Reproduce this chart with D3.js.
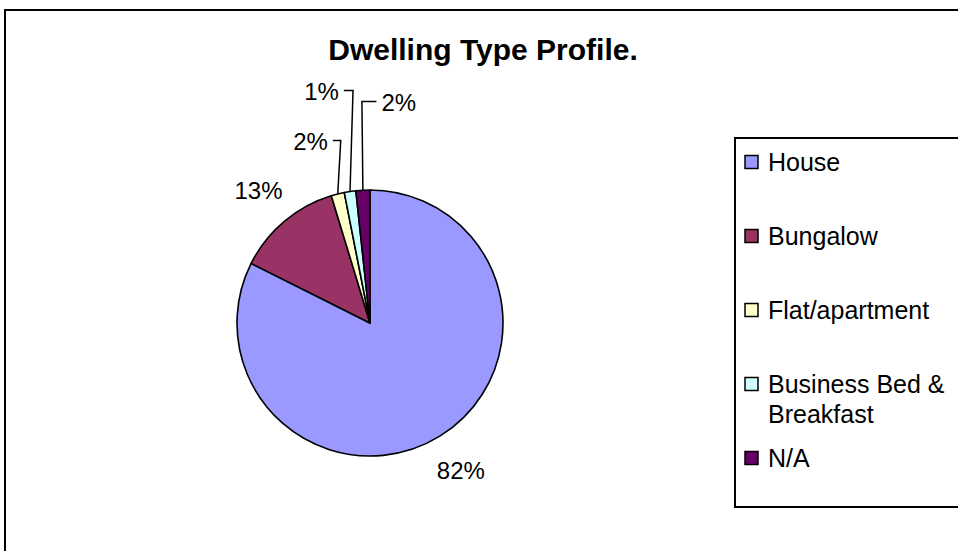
<!DOCTYPE html>
<html>
<head>
<meta charset="utf-8">
<script src="https://cdn.jsdelivr.net/npm/d3@7"></script>
<style>
  html, body { margin: 0; padding: 0; background: #fff; }
  svg { display: block; font-family: "Liberation Sans", Arial, sans-serif; }
</style>
</head>
<body>
<svg id="chart" width="958" height="551"></svg>
<script>
// Dwelling type shares (percent of respondents)
const categories = ["House", "Bungalow", "Flat/apartment", "Business Bed & Breakfast", "N/A"];
const shares = [82.4, 12.9, 1.6, 1.4, 1.7];
const sliceColors = ["#9999FF", "#993366", "#FFFFCC", "#CCFFFF", "#660066"];
const legendLines = [["House"], ["Bungalow"], ["Flat/apartment"], ["Business Bed &", "Breakfast"], ["N/A"]];
const titleText = "Dwelling Type Profile.";

// Layout
const W = 958, H = 551;
const cx = 370, cy = 323, radius = 133;
const labelGap = 40;
// labels of the thin slices are pulled clear of each other and joined by leader lines
const labelNudge = { "Flat/apartment": [-17.5, -13.7], "Business Bed & Breakfast": [-22.5, -60.5], "N/A": [38, -47.7] };

const svg = d3.select("#chart");

// chart area frame
svg.append("rect")
  .attr("x", 5).attr("y", 10)
  .attr("width", 980).attr("height", 620)
  .attr("fill", "#fff").attr("stroke", "#000").attr("stroke-width", 2);

// title
svg.append("text")
  .attr("x", 483).attr("y", 60)
  .attr("text-anchor", "middle")
  .attr("font-size", 30).attr("font-weight", "bold")
  .text(titleText);

const data = categories.map((c, i) => ({ category: c, value: shares[i], color: sliceColors[i] }));
const color = d3.scaleOrdinal().domain(categories).range(sliceColors);

const pie = d3.pie().sort(null).value(d => d.value).startAngle(0).endAngle(2 * Math.PI);
const arcs = pie(data);
const arc = d3.arc().innerRadius(0).outerRadius(radius);
const edgeArc = d3.arc().innerRadius(radius).outerRadius(radius);
const labelArc = d3.arc().innerRadius(radius + labelGap).outerRadius(radius + labelGap);

const g = svg.append("g").attr("transform", `translate(${cx},${cy})`);

g.selectAll("path.slice")
  .data(arcs)
  .join("path")
  .attr("class", "slice")
  .attr("d", arc)
  .attr("fill", d => color(d.data.category))
  .attr("stroke", "#000")
  .attr("stroke-width", 1.6)
  .attr("stroke-linejoin", "round");

// percentage labels
const labels = g.selectAll("g.lab")
  .data(arcs)
  .join("g")
  .attr("class", "lab");

labels.each(function(d) {
  const sel = d3.select(this);
  const [bx, by] = labelArc.centroid(d);
  const nudge = labelNudge[d.data.category] || [0, 0];
  const lx = bx + nudge[0], ly = by + nudge[1];
  const t = sel.append("text")
    .attr("x", lx).attr("y", ly)
    .attr("dy", "0.36em")
    .attr("text-anchor", "middle")
    .attr("font-size", 24)
    .attr("fill", "#000")
    .text(Math.round(d.data.value) + "%");
  if (labelNudge[d.data.category]) {
    const w = t.node().getComputedTextLength();
    const [ex, ey] = edgeArc.centroid(d);
    const side = lx < ex ? lx + w / 2 + 5 : lx - w / 2 - 5;
    const elbowX = lx < ex ? ex + 3 : ex - 1;
    const yLine = ly - 1;
    sel.append("polyline")
      .attr("points", [[ex, ey], [elbowX, yLine], [side, yLine]].map(p => p.join(",")).join(" "))
      .attr("fill", "none")
      .attr("stroke", "#000")
      .attr("stroke-width", 1.5);
  }
});

// legend
const legendX = 735, legendTop = 138, legendBottom = 507;
svg.append("rect")
  .attr("x", legendX).attr("y", legendTop)
  .attr("width", 260).attr("height", legendBottom - legendTop)
  .attr("fill", "#fff").attr("stroke", "#000").attr("stroke-width", 2);

const itemY = d3.scalePoint().domain(categories).range([162, 458]);

const items = svg.selectAll("g.legend-item")
  .data(categories)
  .join("g")
  .attr("class", "legend-item")
  .attr("transform", c => `translate(${legendX}, ${itemY(c)})`);

items.append("rect")
  .attr("x", 10).attr("y", -6.5)
  .attr("width", 13).attr("height", 13)
  .attr("fill", c => color(c))
  .attr("stroke", "#000").attr("stroke-width", 1.5);

items.append("text")
  .attr("x", 33)
  .attr("font-size", 25)
  .attr("fill", "#000")
  .selectAll("tspan")
  .data((c, i) => legendLines[i])
  .join("tspan")
  .attr("x", 33)
  .attr("y", (d, i) => i * 30)
  .attr("dy", "0.36em")
  .text(d => d);
</script>
</body>
</html>
